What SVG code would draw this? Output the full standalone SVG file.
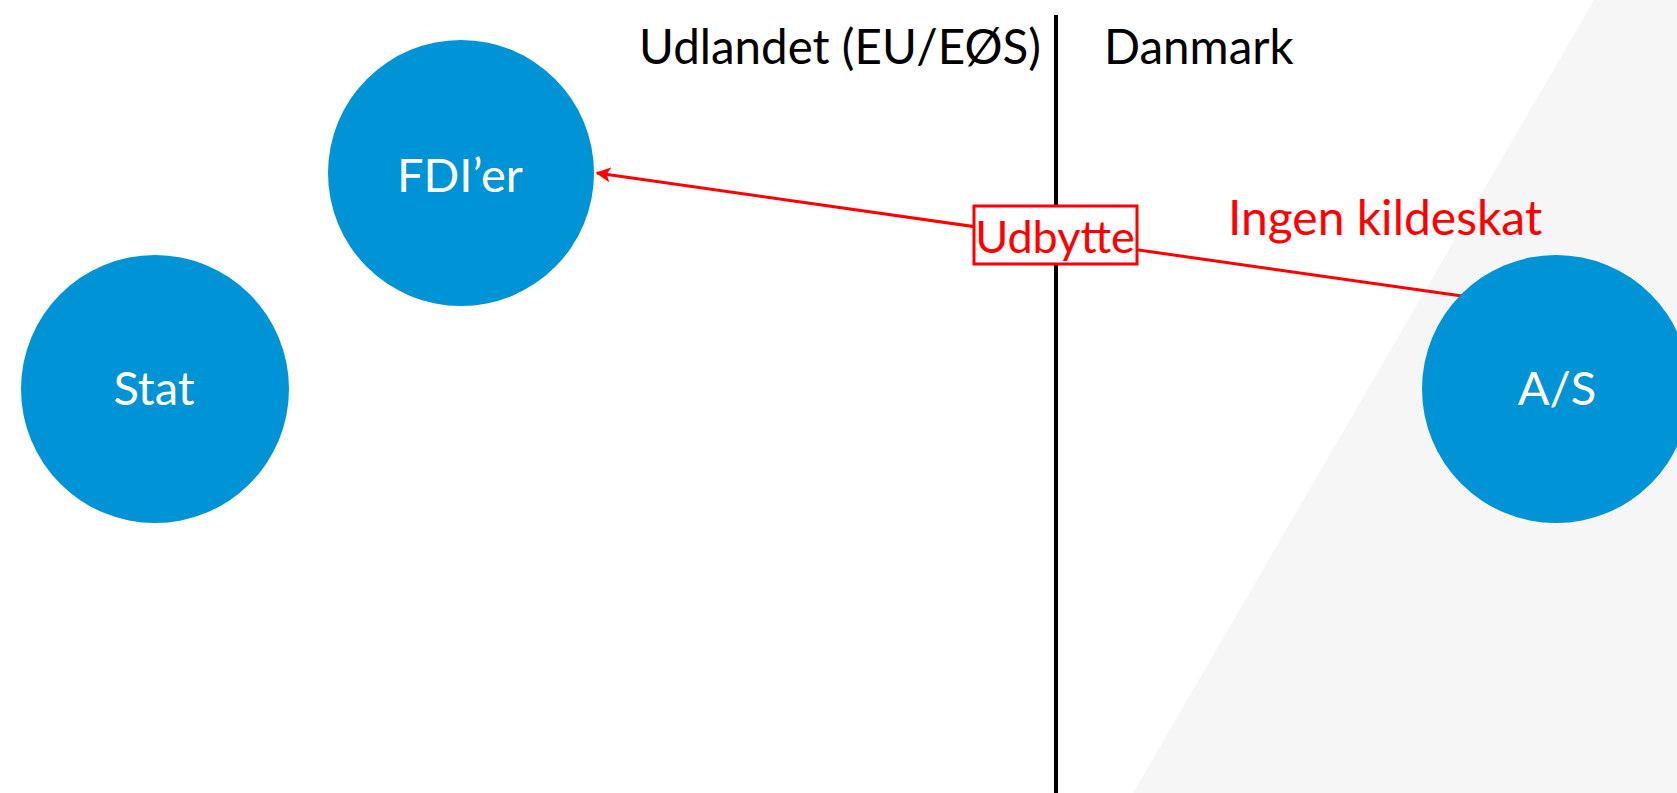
<svg xmlns="http://www.w3.org/2000/svg" width="1677" height="793" viewBox="0 0 1677 793">
<defs>
<style>
.node{fill:#0093d6}
.lbl{font-family:Lato,"Liberation Sans",sans-serif;fill:#ffffff;text-anchor:middle;font-size:47px}
.hdr{font-family:Lato,"Liberation Sans",sans-serif;fill:#000000;font-size:47.5px}
.red{font-family:Lato,"Liberation Sans",sans-serif;fill:#ff0000;font-size:48px;text-anchor:middle}
.edge{stroke:#ff0000;stroke-width:3;fill:none}
</style>
<marker id="arr" viewBox="0 0 10 10" refX="9" refY="5" markerWidth="5" markerHeight="5" orient="auto" markerUnits="strokeWidth">
<path d="M0,0 L10,5 L0,10 L2.5,5 Z" fill="#ff0000"/>
</marker>
</defs>
<rect width="1677" height="793" fill="#ffffff"/>
<polygon points="1594,0 1677,0 1677,793 1133,793" fill="#f6f6f6"/>
<line x1="1056" y1="15" x2="1056" y2="793" stroke="#000000" stroke-width="4"/>
<text class="hdr" x="840" y="64" text-anchor="middle">Udlandet (EU/EØS)</text>
<text class="hdr" x="1104" y="64">Danmark</text>
<g id="connectors">
<line class="edge" x1="1462" y1="296" x2="597" y2="173" marker-end="url(#arr)"/>
<g id="udbytte-label">
<rect x="974" y="206" width="163" height="58" fill="#ffffff" stroke="#ff0000" stroke-width="3"/>
<text class="red" x="1055" y="253" style="font-size:45px">Udbytte</text>
</g>
<text class="red" x="1385" y="235">Ingen kildeskat</text>
</g>
<g id="fdier">
<circle class="node" cx="461" cy="173" r="133"/>
<text class="lbl" x="460" y="192">FDI’er</text>
</g>
<g id="stat">
<circle class="node" cx="155" cy="389" r="134"/>
<text class="lbl" x="154" y="405">Stat</text>
</g>
<g id="as">
<circle class="node" cx="1556" cy="389" r="134"/>
<text class="lbl" x="1557" y="405">A/S</text>
</g>
</svg>
